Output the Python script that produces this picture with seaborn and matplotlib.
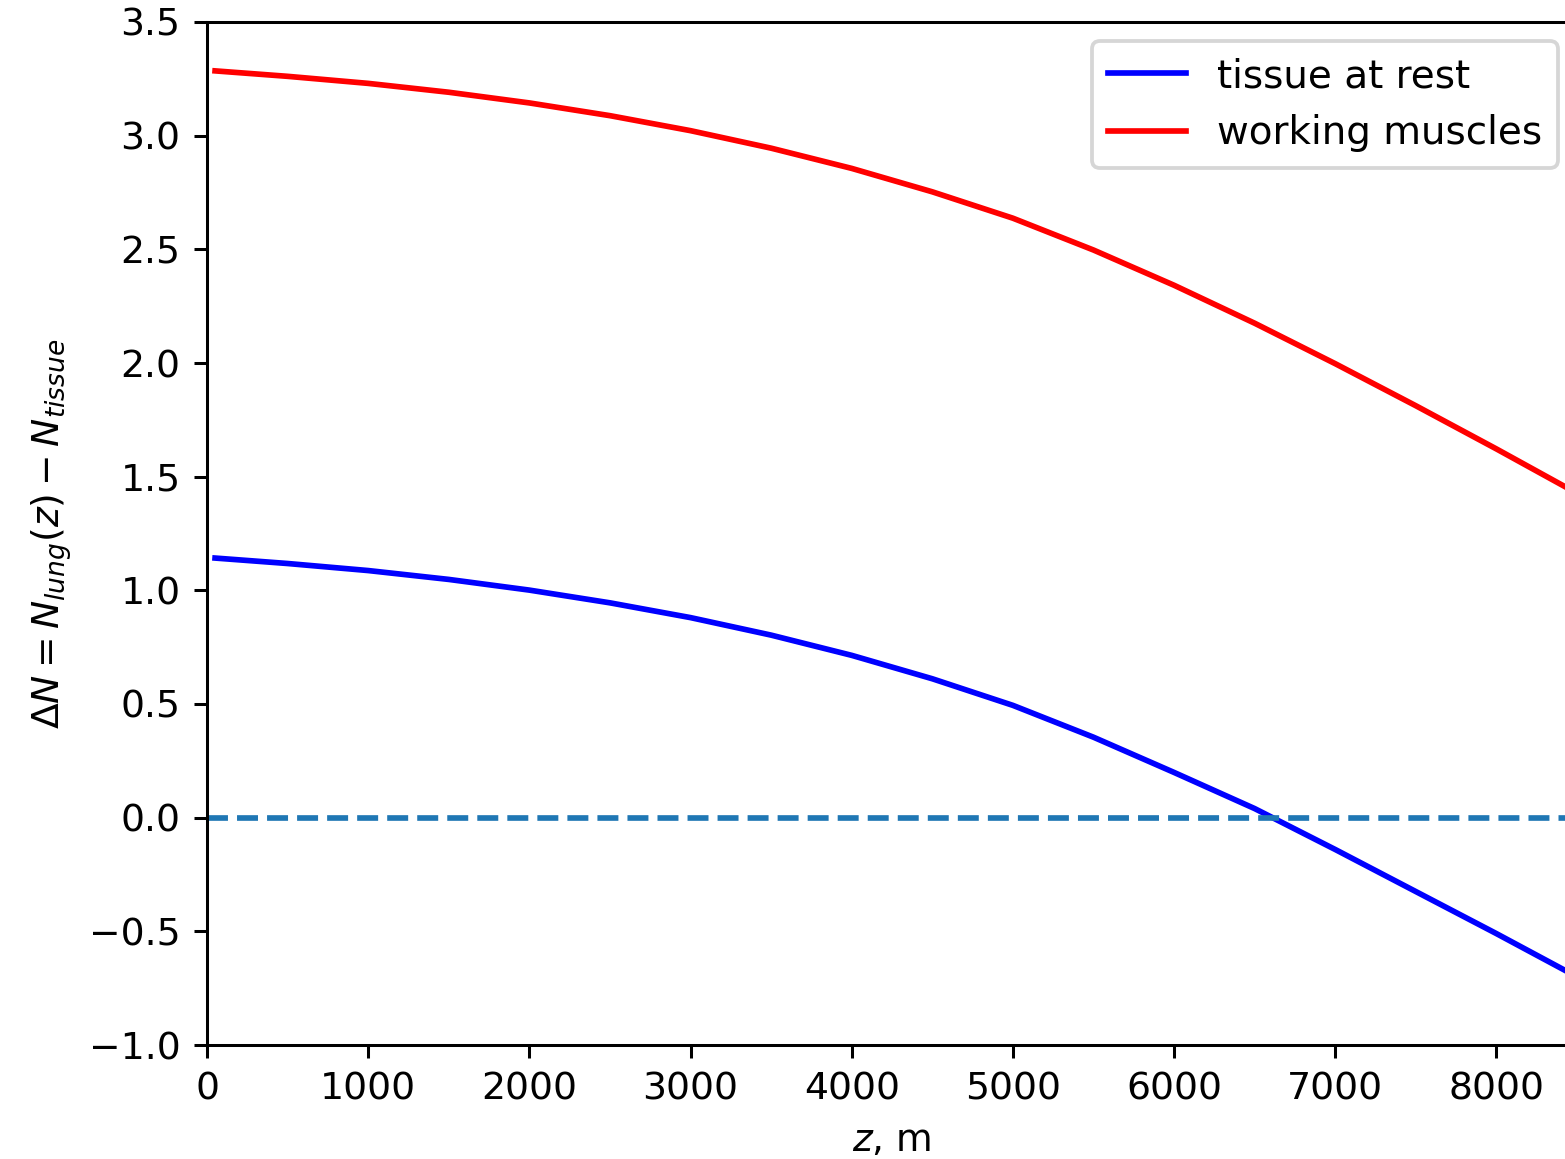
import numpy as np
import pandas as pd
import seaborn as sns
import matplotlib
matplotlib.use("Agg")
import matplotlib.pyplot as plt

# altitude, m
z = [50, 500, 1000, 1500, 2000, 2500, 3000, 3500, 4000, 4500,
     5000, 5500, 6000, 6500, 7000, 7500, 8000, 8500]

# delta N
dn_rest = [1.142, 1.118, 1.087, 1.048, 1.001, 0.945, 0.880, 0.803, 0.714, 0.611,
           0.494, 0.354, 0.199, 0.040, -0.140, -0.325, -0.510, -0.700]
dn_work = [3.285, 3.261, 3.230, 3.191, 3.144, 3.088, 3.022, 2.945, 2.856, 2.753,
           2.637, 2.497, 2.342, 2.175, 1.997, 1.812, 1.622, 1.427]

labels = ["tissue at rest", "working muscles"]
colors = ["blue", "red"]

df = pd.DataFrame({
    "z": z * 2,
    "dN": dn_rest + dn_work,
    "case": [labels[0]] * len(z) + [labels[1]] * len(z),
})

fig = plt.figure(figsize=(1565 / 272, 1159 / 272), dpi=272)
ax = fig.add_axes([207 / 1565, 114 / 1159, 1370 / 1565, 1023 / 1159])

sns.lineplot(data=df, x="z", y="dN", hue="case", palette=colors, ax=ax,
             linewidth=1.5)
ax.axhline(0, linestyle="--", color="C0", linewidth=1.5)

ax.set_xlim(0, 8500)
ax.set_ylim(-1.0, 3.5)
ax.set_xticks(np.arange(0, 8001, 1000))
ax.set_yticks(np.arange(-1.0, 3.51, 0.5))
ax.set_xlabel(r"$z$, m")
ax.set_ylabel(r"$\Delta N = N_{lung}(z) - N_{tissue}$")
ax.legend(loc="upper right", title=None, fontsize=10.3)

fig.savefig("out.png", dpi=272)
